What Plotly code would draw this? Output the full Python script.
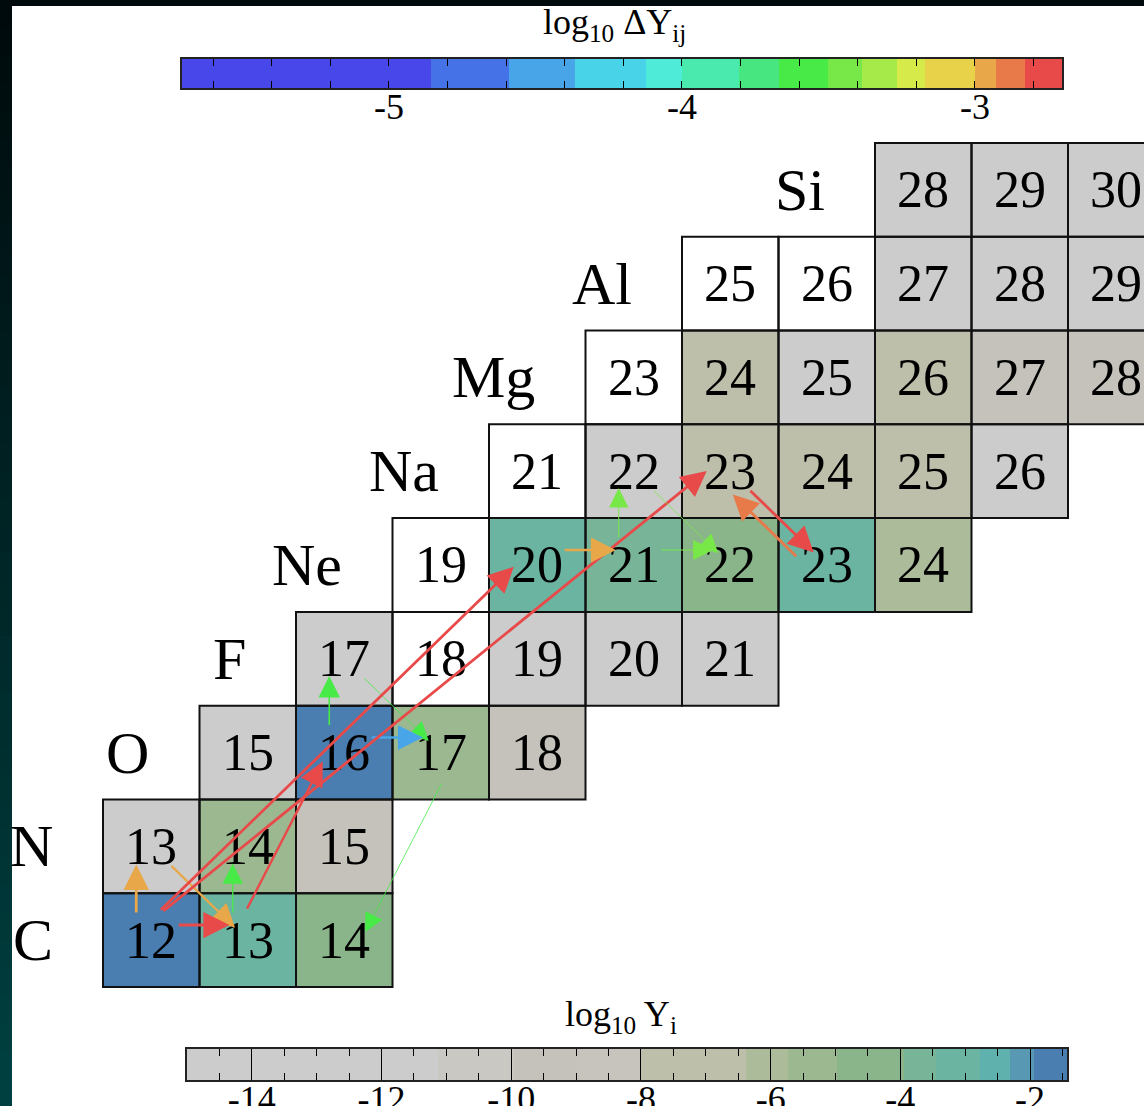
import numpy as np
import plotly.graph_objects as go

FIG_W, FIG_H = 1144, 1106
SERIF = "Liberation Serif"

# Element rows (proton number Z)
ELEMENTS = ["C", "N", "O", "F", "Ne", "Na", "Mg", "Al", "Si"]
ELEMENT_Z = [6, 7, 8, 9, 10, 11, 12, 13, 14]

# Nuclides: proton number, mass number, log10 abundance Y_i (None = not populated)
NUC_Z = [6, 6, 6,
         7, 7, 7,
         8, 8, 8, 8,
         9, 9, 9, 9, 9,
         10, 10, 10, 10, 10, 10,
         11, 11, 11, 11, 11, 11,
         12, 12, 12, 12, 12, 12,
         13, 13, 13, 13, 13,
         14, 14, 14]
NUC_A = [12, 13, 14,
         13, 14, 15,
         15, 16, 17, 18,
         17, 18, 19, 20, 21,
         19, 20, 21, 22, 23, 24,
         21, 22, 23, 24, 25, 26,
         23, 24, 25, 26, 27, 28,
         25, 26, 27, 28, 29,
         28, 29, 30]
NUC_LOGY = [-1.7, -3.0, -4.3,
            -12.0, -5.3, -9.5,
            -13.0, -1.6, -5.2, -9.2,
            -12.5, None, -11.5, -14.0, -14.5,
            None, -2.9, -3.6, -4.2, -3.1, -6.0,
            None, -11.8, -7.2, -7.5, -7.8, -13.5,
            None, -7.4, -12.2, -7.6, -9.0, -9.6,
            None, None, -11.5, -13.0, -14.0,
            -11.3, -12.8, -13.7]

# Reaction flows i -> j and their log10 ΔY_ij
FLOW_FROM_Z = [6, 7, 6, 6, 8, 8, 9, 8, 6, 6, 6, 10, 10, 10, 11, 11, 10]
FLOW_FROM_A = [12, 13, 12, 13, 17, 16, 17, 16, 12, 12, 13, 20, 21, 21, 22, 23, 23]
FLOW_TO_Z = [7, 6, 6, 7, 6, 9, 8, 8, 10, 11, 8, 10, 11, 10, 10, 10, 11]
FLOW_TO_A = [13, 13, 13, 14, 14, 17, 17, 17, 20, 23, 16, 21, 22, 22, 22, 23, 23]
FLOW_LOG_DY = [-2.96, -2.97, -2.78, -3.62, -3.58, -3.64, -3.55, -4.45, -2.75,
               -2.76, -2.77, -2.95, -3.45, -3.42, -3.40, -2.78, -2.88]

# Line widths used for the flow arrows (px)
FLOW_WIDTH = [2.8, 2.2, 3.0, 1.3, 0.8, 1.6, 0.8, 2.6, 2.8, 2.8, 2.4, 2.6, 1.0,
              1.2, 0.8, 2.8, 2.8]

# Stepped colour scales: level boundaries and the colour of each band
FLOW_BOUNDS = [-5.706, -4.857, -4.591, -4.365, -4.123, -4.001, -3.808, -3.670,
               -3.501, -3.388, -3.266, -3.170, -3.0, -2.928, -2.830, -2.703]
FLOW_COLORS = ["#4747EA", "#4672E7", "#48A6E8", "#49D3E8", "#4EECD8", "#4AEAAE",
               "#48E680", "#48EA48", "#78E849", "#A6EA49", "#D6EA49", "#E8D24A",
               "#E8A84A", "#E87A4A", "#E84A4A"]
AB_BOUNDS = [-15.0, -11.13, -9.95, -8.94, -8.0, -6.38, -5.74, -4.98, -3.95,
             -3.46, -2.77, -2.31, -1.95, -1.43]
AB_COLORS = ["#CCCCCC", "#C9C8C3", "#C4C2BA", "#C6C4BC", "#BEBFAB", "#ACBB9A",
             "#9CB891", "#8AB48A", "#78B497", "#6AB4A1", "#5EB1AD", "#5898B2",
             "#4A7EB0"]


def stepped_scale(bounds, colors):
    lo, hi = bounds[0], bounds[-1]
    scale = []
    for i, c in enumerate(colors):
        scale.append([(bounds[i] - lo) / (hi - lo), c])
        scale.append([(bounds[i + 1] - lo) / (hi - lo), c])
    scale[0][0], scale[-1][0] = 0.0, 1.0
    return scale


def stepped_color(v, bounds, colors):
    for i, c in enumerate(colors):
        if v <= bounds[i + 1]:
            return c
    return colors[-1]


# Main chart axes: neutron number N horizontally, proton number Z vertically
X_RANGE = [4.4326, 16.2876]
Y_RANGE = [4.2311, 16.0247]
SX = FIG_W / (X_RANGE[1] - X_RANGE[0])   # px per unit N
SY = FIG_H / (Y_RANGE[1] - Y_RANGE[0])   # px per unit Z

n_vals = list(range(6, 17))
z_vals = list(range(6, 15))
grid = [[None] * len(n_vals) for _ in z_vals]
for z, a, v in zip(NUC_Z, NUC_A, NUC_LOGY):
    grid[z_vals.index(z)][n_vals.index(a - z)] = v

fig = go.Figure()

fig.add_trace(go.Heatmap(
    x=n_vals, y=z_vals, z=grid, coloraxis="coloraxis",
    hoverongaps=False, xaxis="x", yaxis="y",
))

# Colour keys
flow_keys = np.linspace(FLOW_BOUNDS[0], FLOW_BOUNDS[-1], 1500)
fig.add_trace(go.Heatmap(x=flow_keys, y=[0], z=[flow_keys], coloraxis="coloraxis2",
                         xaxis="x2", yaxis="y2", hoverinfo="skip"))
ab_keys = np.linspace(AB_BOUNDS[0], AB_BOUNDS[-1], 1500)
fig.add_trace(go.Heatmap(x=ab_keys, y=[0], z=[ab_keys], coloraxis="coloraxis",
                         xaxis="x3", yaxis="y3", hoverinfo="skip"))

shapes = []
annotations = []

# Cell outlines and mass numbers
for z, a in zip(NUC_Z, NUC_A):
    n = a - z
    shapes.append(dict(type="rect", xref="x", yref="y", x0=n - 0.5, x1=n + 0.5,
                       y0=z - 0.5, y1=z + 0.5, line=dict(color="#111111", width=2),
                       fillcolor="rgba(0,0,0,0)", layer="above"))
    annotations.append(dict(x=n, y=z, xref="x", yref="y", text=str(a),
                            showarrow=False, font=dict(family=SERIF, size=52, color="black")))

# Element symbols, right-aligned one column before the lightest isotope
for sym, z in zip(ELEMENTS, ELEMENT_Z):
    n_first = min(a - zz for zz, a in zip(NUC_Z, NUC_A) if zz == z)
    annotations.append(dict(x=n_first - 1, y=z, xref="x", yref="y", text=sym,
                            xanchor="right", showarrow=False,
                            font=dict(family=SERIF, size=60, color="black")))

# Flow arrows, offset sideways so opposite flows do not overlap
for zf, af, zt, at, v, w in zip(FLOW_FROM_Z, FLOW_FROM_A, FLOW_TO_Z, FLOW_TO_A,
                                FLOW_LOG_DY, FLOW_WIDTH):
    nf, nt = af - zf, at - zt
    p0 = np.array([nf * SX, zf * SY])
    p1 = np.array([nt * SX, zt * SY])
    d = (p1 - p0) / np.linalg.norm(p1 - p0)
    left = np.array([-d[1], d[0]])
    shift = 0.0 if (nt - nf, zt - zf) == (1, -1) else 15.0
    tail = p0 + left * shift + d * 26.0
    tip = p1 + left * shift - d * 13.0
    head_px = 16.0 + 3.4 * w
    scale = head_px / 5.0
    point = tip - d * 1.0 * scale
    annotations.append(dict(
        x=point[0] / SX, y=point[1] / SY, ax=tail[0] / SX, ay=tail[1] / SY,
        xref="x", yref="y", axref="x", ayref="y", text="", showarrow=True,
        arrowhead=2, arrowsize=scale / w, arrowwidth=w, standoff=0,
        arrowcolor=stepped_color(v, FLOW_BOUNDS, FLOW_COLORS), font=dict(size=1),
    ))

# Colour key titles
annotations.append(dict(x=614 / FIG_W, y=1 - 25 / FIG_H, xref="paper", yref="paper",
                        text="log<sub>10</sub> ΔY<sub>ij</sub>", showarrow=False,
                        yanchor="middle",
                        font=dict(family=SERIF, size=36, color="black")))
annotations.append(dict(x=621 / FIG_W, y=1 - 1016 / FIG_H, xref="paper", yref="paper",
                        text="log<sub>10</sub> Y<sub>i</sub>", showarrow=False,
                        yanchor="middle",
                        font=dict(family=SERIF, size=36, color="black")))

# Dark frame along the top and left edges
bands = 40
for i in range(bands):
    t = i / (bands - 1)
    g = int(round(64 - t * 54))
    b = int(round(64 - t * 52))
    shapes.append(dict(type="rect", xref="paper", yref="paper", x0=0, x1=12 / FIG_W,
                       y0=i / bands, y1=min(1.0, (i + 1) / bands + 0.004),
                       line=dict(width=0), fillcolor=f"rgb(0,{g},{b})", layer="above"))
shapes.append(dict(type="rect", xref="paper", yref="paper", x0=0, x1=1,
                   y0=1 - 6 / FIG_H, y1=1, line=dict(width=0),
                   fillcolor="rgb(0,10,12)", layer="above"))

MINOR_LEN = 7


def key_xaxis(domain, rng, major, major_len, minor_step, minor0, anchor):
    return dict(
        domain=domain, range=rng, anchor=anchor, tickmode="array", tickvals=major,
        ticktext=[f"-{abs(int(m))}" for m in major], ticks="inside", ticklen=major_len,
        tickwidth=1.3, tickcolor="black", showgrid=False, zeroline=False,
        showline=True, linecolor="#222222", linewidth=1.5, mirror="ticks",
        layer="above traces", fixedrange=True, automargin=False,
        ticklabelstandoff=-14,
        tickfont=dict(family=SERIF, size=36, color="black"),
        minor=dict(ticks="inside", ticklen=MINOR_LEN, tickwidth=1.3, tickcolor="black",
                   dtick=minor_step, tick0=minor0, showgrid=False),
    )


def key_top_ticks(base, rng, dividers, div_len, minor_step, minor0, anchor):
    # axis on the upper edge of a key: mirrored minor ticks plus full-height dividers
    return dict(
        overlaying=base, anchor=anchor, side="top", range=rng,
        tickmode="array", tickvals=dividers, ticks="inside", ticklen=div_len,
        tickwidth=1.3, tickcolor="black",
        showticklabels=False, showgrid=False, zeroline=False, showline=False,
        layer="above traces", fixedrange=True, automargin=False,
        minor=dict(ticks="inside", ticklen=MINOR_LEN, tickwidth=1.3, tickcolor="black",
                   dtick=minor_step, tick0=minor0, showgrid=False),
    )


def key_yaxis(domain, anchor):
    return dict(domain=domain, range=[-0.5, 0.5], anchor=anchor, showticklabels=False,
                ticks="", showgrid=False, zeroline=False, showline=True,
                linecolor="#222222", linewidth=1.5, mirror=True, layer="above traces",
                fixedrange=True, automargin=False)


flow_rng = [FLOW_BOUNDS[0], FLOW_BOUNDS[-1]]
ab_rng = [AB_BOUNDS[0], AB_BOUNDS[-1]]
ab_major = [-14, -12, -10, -8, -6, -4, -2]

fig.update_layout(
    width=FIG_W, height=FIG_H, autosize=False,
    margin=dict(l=0, r=0, t=0, b=0, pad=0, autoexpand=False),
    paper_bgcolor="white", plot_bgcolor="rgba(0,0,0,0)",
    showlegend=False,
    xaxis=dict(domain=[0, 1], range=X_RANGE, visible=False, fixedrange=True,
               automargin=False),
    yaxis=dict(domain=[0, 1], range=Y_RANGE, visible=False, fixedrange=True,
               automargin=False),
    xaxis2=key_xaxis([182 / FIG_W, 1062 / FIG_W], flow_rng, [-5, -4, -3], MINOR_LEN,
                     0.2, -5.0, "y2"),
    yaxis2=key_yaxis([1 - 88 / FIG_H, 1 - 59 / FIG_H], "x2"),
    xaxis3=key_xaxis([187 / FIG_W, 1067 / FIG_W], ab_rng, ab_major, 31,
                     0.5, -15.0, "y3"),
    yaxis3=key_yaxis([1 - 1080 / FIG_H, 1 - 1049 / FIG_H], "x3"),
    xaxis4=key_top_ticks("x2", flow_rng, [-4, -3], 29, 0.2, -5.0, "y2"),
    xaxis5=key_top_ticks("x3", ab_rng, ab_major, 31, 0.5, -15.0, "y3"),
    coloraxis=dict(colorscale=stepped_scale(AB_BOUNDS, AB_COLORS),
                   cmin=AB_BOUNDS[0], cmax=AB_BOUNDS[-1], showscale=False),
    coloraxis2=dict(colorscale=stepped_scale(FLOW_BOUNDS, FLOW_COLORS),
                    cmin=FLOW_BOUNDS[0], cmax=FLOW_BOUNDS[-1], showscale=False),
    shapes=shapes, annotations=annotations,
)

fig.write_html("out.html")
